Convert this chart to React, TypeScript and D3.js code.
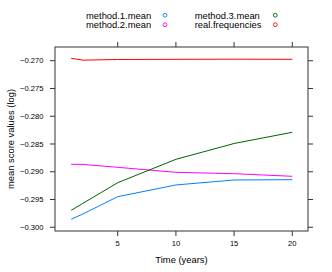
import React from "react";
import * as d3 from "d3";

const years = [1, 2, 5, 10, 15, 20];
const method1 = [-0.29856, -0.29761, -0.29449, -0.29238, -0.29148, -0.29143];
const method2 = [-0.28866, -0.28868, -0.2892, -0.2901, -0.29035, -0.29082];
const method3 = [-0.29694, -0.2957, -0.29197, -0.28776, -0.28491, -0.28289];
const realFreq = [-0.26957, -0.2699, -0.26978, -0.26975, -0.26972, -0.26975];
const xTicks = [5, 10, 15, 20];
const yTicks = [-0.27, -0.275, -0.28, -0.285, -0.29, -0.295, -0.3];

const seriesNames = ["method.1.mean", "method.2.mean", "method.3.mean", "real.frequencies"];
const seriesColors = ["#0080ff", "#ff00ff", "#006400", "#ff0000"];
const seriesValues = [method1, method2, method3, realFreq];

export default function App() {
  const W = 332, H = 272;
  const left = 55, right = 308, top = 47, bottom = 231;
  const x = d3.scaleLinear().domain([-0.39, 21.35]).range([left, right]);
  const y = d3.scaleLinear().domain([-0.30067, -0.26753]).range([bottom, top]);
  const line = d3
    .line<number>()
    .x((_, i) => x(years[i]))
    .y((d) => y(d));
  const font = "'Liberation Sans', Arial, sans-serif";
  const axisColor = "#333";
  const fmt = (v: number) => (v < 0 ? "\u2212" : "") + Math.abs(v).toFixed(3);

  const legendPos = [
    { tx: 86, cx: 165, by: 18.5 },
    { tx: 86, cx: 165, by: 28 },
    { tx: 194.7, cx: 275.3, by: 18.5 },
    { tx: 194.7, cx: 275.3, by: 28 },
  ];

  return (
    <svg
      width={W}
      height={H}
      style={{ position: "absolute", left: 0, top: 0, background: "#fff" }}
      fontFamily={font}
    >
      <rect x={0} y={0} width={W} height={H} fill="#fff" />
      {seriesNames.map((n, i) => (
        <g key={n}>
          <text x={legendPos[i].tx} y={legendPos[i].by} fontSize={9.4} fill="#000">
            {n}
          </text>
          <circle
            cx={legendPos[i].cx}
            cy={legendPos[i].by - 3.3}
            r={1.9}
            fill="none"
            stroke={seriesColors[i]}
            strokeWidth={0.9}
          />
        </g>
      ))}
      {seriesValues.map((vals, i) => (
        <path
          key={i}
          d={line(vals) || ""}
          fill="none"
          stroke={seriesColors[i]}
          strokeWidth={1}
        />
      ))}
      <rect
        x={left}
        y={top}
        width={right - left}
        height={bottom - top}
        fill="none"
        stroke={axisColor}
        strokeWidth={1}
      />
      {xTicks.map((t) => (
        <g key={"x" + t}>
          <line x1={x(t)} x2={x(t)} y1={bottom} y2={bottom + 5} stroke={axisColor} />
          <line x1={x(t)} x2={x(t)} y1={top} y2={top - 5} stroke={axisColor} />
          <text x={x(t)} y={246} fontSize={7.6} textAnchor="middle" fill="#000">
            {t}
          </text>
        </g>
      ))}
      {yTicks.map((t) => (
        <g key={"y" + t}>
          <line x1={left} x2={left - 5} y1={y(t)} y2={y(t)} stroke={axisColor} />
          <line x1={right} x2={right + 5} y1={y(t)} y2={y(t)} stroke={axisColor} />
          <text
            x={43.5}
            y={y(t)}
            dy="0.35em"
            fontSize={7.6}
            textAnchor="end"
            fill="#000"
          >
            {fmt(t)}
          </text>
        </g>
      ))}
      <text x={(left + right) / 2} y={262.5} fontSize={9.4} textAnchor="middle" fill="#000">
        Time (years)
      </text>
      <text
        transform={`translate(13.5, ${(top + bottom) / 2}) rotate(-90)`}
        fontSize={9.4}
        textAnchor="middle"
        fill="#000"
      >
        mean score values (log)
      </text>
    </svg>
  );
}
